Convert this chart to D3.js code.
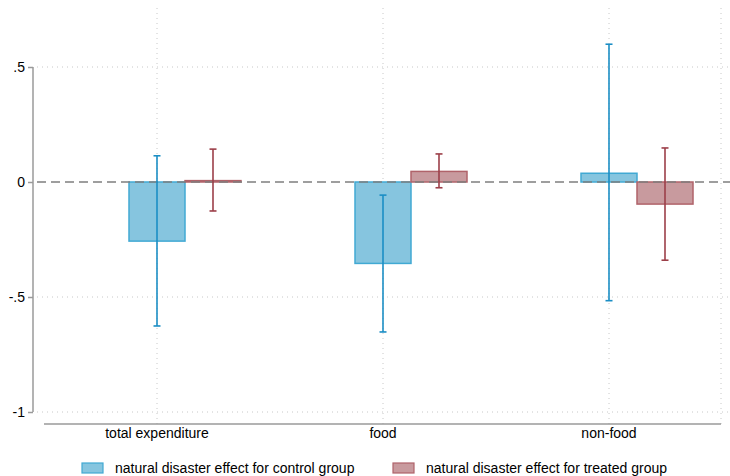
<!DOCTYPE html>
<html>
<head>
<meta charset="utf-8">
<script src="https://cdn.jsdelivr.net/npm/d3@7"></script>
<style>
  body { margin: 0; background: #fff; }
  svg { display: block; }
  text { font-family: "Liberation Sans", Arial, sans-serif; font-size: 14px; fill: #000; }
</style>
</head>
<body>
<svg id="chart" width="730" height="476"></svg>
<script>
const categories = ["total expenditure", "food", "non-food"];
const controlEst = [-0.257, -0.354, 0.038];
const controlLo  = [-0.626, -0.652, -0.516];
const controlHi  = [0.114, -0.057, 0.599];
const treatedEst = [0.006, 0.046, -0.096];
const treatedLo  = [-0.126, -0.025, -0.340];
const treatedHi  = [0.143, 0.122, 0.148];
const yTicks = [0.5, 0, -0.5, -1];
const yTickLabels = [".5", "0", "-.5", "-1"];
const seriesNames = ["natural disaster effect for control group", "natural disaster effect for treated group"];

const colors = {
  control: { fill: "#86c5df", stroke: "#41a9d3", err: "#1b8ec5" },
  treated: { fill: "#c89a9e", stroke: "#b0636a", err: "#9c3f49" }
};

const svg = d3.select("#chart");
const y = d3.scaleLinear().domain([-1, 0.5]).range([412, 67]);
const x = d3.scalePoint().domain(categories).range([157, 609]);
const barW = 56;
const plotLeft = 37, plotRight = 721, plotTop = 8, axisY = 424;

// horizontal gridlines (dotted)
svg.append("g").selectAll("line").data(yTicks.filter(d => d !== 0)).join("line")
  .attr("x1", plotLeft).attr("x2", 729)
  .attr("y1", d => y(d)).attr("y2", d => y(d))
  .attr("stroke", "#c8c8c8").attr("stroke-width", 1).attr("stroke-dasharray", "1,4");

// vertical gridlines (dotted)
const vGrid = categories.map(c => x(c)).concat([plotRight]);
svg.append("g").selectAll("line").data(vGrid).join("line")
  .attr("x1", d => d).attr("x2", d => d)
  .attr("y1", plotTop).attr("y2", axisY)
  .attr("stroke", "#c8c8c8").attr("stroke-width", 1).attr("stroke-dasharray", "1,4");

// y axis
const yAxis = d3.axisLeft(y).tickValues(yTicks).tickSize(5).tickPadding(3)
  .tickFormat((d, i) => yTickLabels[i]);
const gy = svg.append("g").attr("transform", "translate(33,0)").call(yAxis);
gy.select(".domain").attr("stroke", "#9a9a9a").attr("stroke-width", 1.5).attr("d", `M0,${y(0.5)}V${y(-1)}`);
gy.selectAll(".tick line").attr("stroke", "#9a9a9a").attr("stroke-width", 1.5);
gy.selectAll(".tick text").style("font-family", "'Liberation Sans', Arial, sans-serif").style("font-size", "14px").attr("fill", "#000");

// x axis line
svg.append("line").attr("x1", 44).attr("x2", plotRight).attr("y1", axisY).attr("y2", axisY)
  .attr("stroke", "#9a9a9a").attr("stroke-width", 1.5);

// category labels
svg.append("g").selectAll("text").data(categories).join("text")
  .attr("x", d => x(d)).attr("y", 438).attr("text-anchor", "middle").text(d => d);

// bars
function drawBars(vals, offset, col) {
  svg.append("g").selectAll("rect").data(categories).join("rect")
    .attr("x", (d) => x(d) + offset - barW / 2)
    .attr("width", barW)
    .attr("y", (d, i) => Math.min(y(vals[i]), y(0)))
    .attr("height", (d, i) => Math.abs(y(vals[i]) - y(0)))
    .attr("fill", col.fill).attr("stroke", col.stroke).attr("stroke-width", 1.5);
}
drawBars(controlEst, 0, colors.control);
drawBars(treatedEst, barW, colors.treated);

// zero reference line (dashed)
svg.append("line").attr("x1", plotLeft).attr("x2", 730).attr("y1", y(0)).attr("y2", y(0))
  .attr("stroke", "#7f7f7f").attr("stroke-width", 1.3).attr("stroke-dasharray", "9,5");

// error bars
function drawErr(lo, hi, offset, color) {
  const g = svg.append("g");
  categories.forEach((c, i) => {
    const cx = x(c) + offset;
    g.append("line").attr("x1", cx).attr("x2", cx).attr("y1", y(hi[i])).attr("y2", y(lo[i]))
      .attr("stroke", color).attr("stroke-width", 1.6);
    [lo[i], hi[i]].forEach(v => {
      g.append("line").attr("x1", cx - 3.5).attr("x2", cx + 3.5).attr("y1", y(v)).attr("y2", y(v))
        .attr("stroke", color).attr("stroke-width", 1.6);
    });
  });
}
drawErr(controlLo, controlHi, 0, colors.control.err);
drawErr(treatedLo, treatedHi, barW, colors.treated.err);

// legend
const legendItems = [
  { name: seriesNames[0], col: colors.control, bx: 82 },
  { name: seriesNames[1], col: colors.treated, bx: 393 }
];
const lg = svg.append("g");
legendItems.forEach(it => {
  lg.append("rect").attr("x", it.bx).attr("y", 463).attr("width", 21).attr("height", 10)
    .attr("fill", it.col.fill).attr("stroke", it.col.stroke).attr("stroke-width", 1.2);
  lg.append("text").attr("x", it.bx + 33).attr("y", 473).text(it.name);
});
</script>
</body>
</html>
